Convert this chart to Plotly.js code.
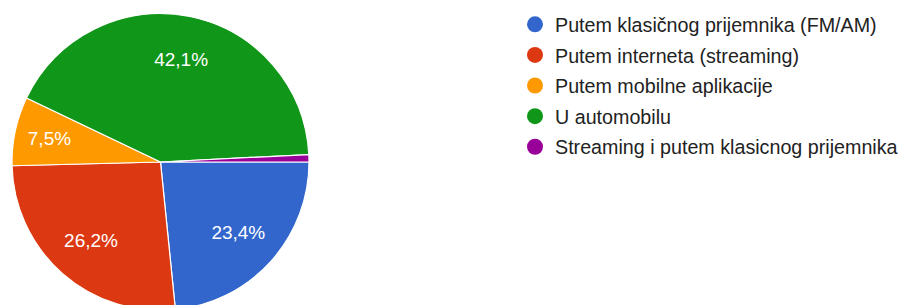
<!DOCTYPE html>
<html>
<head>
<meta charset="utf-8">
<script src="https://cdn.plot.ly/plotly-3.0.1.min.js"></script>
<style>
html,body{margin:0;padding:0;overflow:hidden;background:#fff;}
#chart{width:904px;height:312px;}
</style>
</head>
<body>
<div id="chart"></div>
<script>
const categories = [
  "Putem klasičnog prijemnika (FM/AM)",
  "Putem interneta (streaming)",
  "Putem mobilne aplikacije",
  "U automobilu",
  "Streaming i putem klasicnog prijemnika"
];
const values = [23.4, 26.2, 7.5, 42.1, 0.8];
const colors = ["#3366cc", "#dc3912", "#ff9900", "#109618", "#990099"];
const sliceLabels = ["23,4%", "26,2%", "7,5%", "42,1%", ""];

const W = 904, H = 312;
const cx = 160.5, cy = 162, r = 148.5;
const rText = 140;
const FONT = "Arial, 'Liberation Sans', sans-serif";

function dom(rad) {
  return {
    x: [(cx - rad) / W, (cx + rad) / W],
    y: [1 - (cy + rad) / H, 1 - (cy - rad) / H]
  };
}

const pie = {
  type: "pie",
  labels: categories,
  values: values,
  textinfo: "none",
  hoverinfo: "label+percent",
  sort: false,
  direction: "clockwise",
  rotation: 90,
  marker: {colors: colors, line: {color: "#ffffff", width: 1.2}},
  showlegend: false,
  domain: dom(r)
};

// transparent overlay ring that only carries the percentage labels
const labelRing = {
  type: "pie",
  labels: categories,
  values: values,
  text: sliceLabels,
  textinfo: "text",
  textposition: "inside",
  insidetextorientation: "horizontal",
  hoverinfo: "skip",
  sort: false,
  direction: "clockwise",
  rotation: 90,
  hole: 0.5,
  marker: {colors: categories.map(() => "rgba(0,0,0,0)"), line: {width: 0}},
  insidetextfont: {family: FONT, size: 19, color: "#ffffff"},
  showlegend: false,
  domain: dom(rText)
};

const legendTraces = categories.map((c, i) => ({
  type: "scatter",
  mode: "markers",
  x: [null], y: [null],
  name: c,
  legendgroup: "g" + i,
  marker: {color: colors[i], size: 18, symbol: "circle"},
  hoverinfo: "skip",
  showlegend: true
}));

const layout = {
  width: W, height: H,
  margin: {l: 0, r: 0, t: 0, b: 0},
  paper_bgcolor: "#ffffff",
  plot_bgcolor: "#ffffff",
  xaxis: {visible: false},
  yaxis: {visible: false},
  showlegend: true,
  legend: {
    x: 515 / W, xanchor: "left",
    y: 1 - 5 / H, yanchor: "top",
    font: {family: FONT, size: 19.7, color: "#222222"},
    tracegroupgap: 2,
    itemclick: false,
    bgcolor: "rgba(0,0,0,0)"
  }
};

Plotly.newPlot("chart", [pie, labelRing].concat(legendTraces), layout, {displayModeBar: false, staticPlot: true});
</script>
</body>
</html>
